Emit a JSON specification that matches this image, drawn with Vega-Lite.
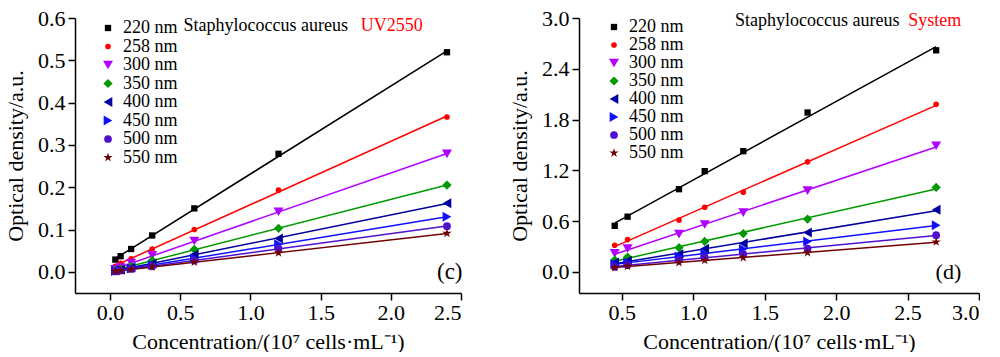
{
  "$schema": "https://vega.github.io/schema/vega-lite/v6.json",
  "padding": {"left": 4, "top": 7, "right": 0, "bottom": 0},
  "background": "white",
  "datasets": {
    "left": [
      {"series": "220 nm", "x": 0.0375, "y": 0.029}, {"series": "220 nm", "x": 0.075, "y": 0.037}, {"series": "220 nm", "x": 0.15, "y": 0.054}, {"series": "220 nm", "x": 0.3, "y": 0.086}, {"series": "220 nm", "x": 0.6, "y": 0.150}, {"series": "220 nm", "x": 1.2, "y": 0.279}, {"series": "220 nm", "x": 2.4, "y": 0.519},
      {"series": "258 nm", "x": 0.0375, "y": 0.013}, {"series": "258 nm", "x": 0.075, "y": 0.020}, {"series": "258 nm", "x": 0.15, "y": 0.031}, {"series": "258 nm", "x": 0.3, "y": 0.054}, {"series": "258 nm", "x": 0.6, "y": 0.100}, {"series": "258 nm", "x": 1.2, "y": 0.193}, {"series": "258 nm", "x": 2.4, "y": 0.366},
      {"series": "300 nm", "x": 0.0375, "y": 0.006}, {"series": "300 nm", "x": 0.075, "y": 0.010}, {"series": "300 nm", "x": 0.15, "y": 0.021}, {"series": "300 nm", "x": 0.3, "y": 0.039}, {"series": "300 nm", "x": 0.6, "y": 0.073}, {"series": "300 nm", "x": 1.2, "y": 0.142}, {"series": "300 nm", "x": 2.4, "y": 0.279},
      {"series": "350 nm", "x": 0.0375, "y": 0.004}, {"series": "350 nm", "x": 0.075, "y": 0.007}, {"series": "350 nm", "x": 0.15, "y": 0.013}, {"series": "350 nm", "x": 0.3, "y": 0.027}, {"series": "350 nm", "x": 0.6, "y": 0.053}, {"series": "350 nm", "x": 1.2, "y": 0.103}, {"series": "350 nm", "x": 2.4, "y": 0.205},
      {"series": "400 nm", "x": 0.0375, "y": 0.003}, {"series": "400 nm", "x": 0.075, "y": 0.005}, {"series": "400 nm", "x": 0.15, "y": 0.010}, {"series": "400 nm", "x": 0.3, "y": 0.020}, {"series": "400 nm", "x": 0.6, "y": 0.041}, {"series": "400 nm", "x": 1.2, "y": 0.079}, {"series": "400 nm", "x": 2.4, "y": 0.162},
      {"series": "450 nm", "x": 0.0375, "y": 0.002}, {"series": "450 nm", "x": 0.075, "y": 0.004}, {"series": "450 nm", "x": 0.15, "y": 0.008}, {"series": "450 nm", "x": 0.3, "y": 0.016}, {"series": "450 nm", "x": 0.6, "y": 0.032}, {"series": "450 nm", "x": 1.2, "y": 0.065}, {"series": "450 nm", "x": 2.4, "y": 0.130},
      {"series": "500 nm", "x": 0.0375, "y": 0.001}, {"series": "500 nm", "x": 0.075, "y": 0.003}, {"series": "500 nm", "x": 0.15, "y": 0.007}, {"series": "500 nm", "x": 0.3, "y": 0.013}, {"series": "500 nm", "x": 0.6, "y": 0.027}, {"series": "500 nm", "x": 1.2, "y": 0.055}, {"series": "500 nm", "x": 2.4, "y": 0.108},
      {"series": "550 nm", "x": 0.0375, "y": 0.001}, {"series": "550 nm", "x": 0.075, "y": 0.003}, {"series": "550 nm", "x": 0.15, "y": 0.006}, {"series": "550 nm", "x": 0.3, "y": 0.012}, {"series": "550 nm", "x": 0.6, "y": 0.023}, {"series": "550 nm", "x": 1.2, "y": 0.045}, {"series": "550 nm", "x": 2.4, "y": 0.091}
    ],
    "right": [
      {"series": "220 nm", "x": 0.45, "y": 0.544}, {"series": "220 nm", "x": 0.54, "y": 0.652}, {"series": "220 nm", "x": 0.9, "y": 0.977}, {"series": "220 nm", "x": 1.08, "y": 1.19}, {"series": "220 nm", "x": 1.35, "y": 1.426}, {"series": "220 nm", "x": 1.8, "y": 1.883}, {"series": "220 nm", "x": 2.7, "y": 2.618},
      {"series": "258 nm", "x": 0.45, "y": 0.314}, {"series": "258 nm", "x": 0.54, "y": 0.381}, {"series": "258 nm", "x": 0.9, "y": 0.612}, {"series": "258 nm", "x": 1.08, "y": 0.763}, {"series": "258 nm", "x": 1.35, "y": 0.942}, {"series": "258 nm", "x": 1.8, "y": 1.30}, {"series": "258 nm", "x": 2.7, "y": 1.98},
      {"series": "300 nm", "x": 0.45, "y": 0.218}, {"series": "300 nm", "x": 0.54, "y": 0.274}, {"series": "300 nm", "x": 0.9, "y": 0.445}, {"series": "300 nm", "x": 1.08, "y": 0.56}, {"series": "300 nm", "x": 1.35, "y": 0.70}, {"series": "300 nm", "x": 1.8, "y": 0.96}, {"series": "300 nm", "x": 2.7, "y": 1.49},
      {"series": "350 nm", "x": 0.45, "y": 0.139}, {"series": "350 nm", "x": 0.54, "y": 0.175}, {"series": "350 nm", "x": 0.9, "y": 0.286}, {"series": "350 nm", "x": 1.08, "y": 0.36}, {"series": "350 nm", "x": 1.35, "y": 0.453}, {"series": "350 nm", "x": 1.8, "y": 0.624}, {"series": "350 nm", "x": 2.7, "y": 0.997},
      {"series": "400 nm", "x": 0.45, "y": 0.11}, {"series": "400 nm", "x": 0.54, "y": 0.13}, {"series": "400 nm", "x": 0.9, "y": 0.207}, {"series": "400 nm", "x": 1.08, "y": 0.274}, {"series": "400 nm", "x": 1.35, "y": 0.334}, {"series": "400 nm", "x": 1.8, "y": 0.465}, {"series": "400 nm", "x": 2.7, "y": 0.735},
      {"series": "450 nm", "x": 0.45, "y": 0.09}, {"series": "450 nm", "x": 0.54, "y": 0.11}, {"series": "450 nm", "x": 0.9, "y": 0.18}, {"series": "450 nm", "x": 1.08, "y": 0.215}, {"series": "450 nm", "x": 1.35, "y": 0.27}, {"series": "450 nm", "x": 1.8, "y": 0.358}, {"series": "450 nm", "x": 2.7, "y": 0.552},
      {"series": "500 nm", "x": 0.45, "y": 0.06}, {"series": "500 nm", "x": 0.54, "y": 0.08}, {"series": "500 nm", "x": 0.9, "y": 0.14}, {"series": "500 nm", "x": 1.08, "y": 0.17}, {"series": "500 nm", "x": 1.35, "y": 0.21}, {"series": "500 nm", "x": 1.8, "y": 0.274}, {"series": "500 nm", "x": 2.7, "y": 0.433},
      {"series": "550 nm", "x": 0.45, "y": 0.05}, {"series": "550 nm", "x": 0.54, "y": 0.065}, {"series": "550 nm", "x": 0.9, "y": 0.11}, {"series": "550 nm", "x": 1.08, "y": 0.135}, {"series": "550 nm", "x": 1.35, "y": 0.167}, {"series": "550 nm", "x": 1.8, "y": 0.226}, {"series": "550 nm", "x": 2.7, "y": 0.354}
    ]
  },
  "hconcat": [
    {
      "width": 386,
      "height": 275,
      "layer": [
        {
          "data": {"name": "left"},
          "transform": [{"regression": "y", "on": "x", "groupby": ["series"]}],
          "mark": {"type": "line", "strokeWidth": 1.5},
          "encoding": {
            "x": {"field": "x", "type": "quantitative", "scale": {"domain": [-0.25, 2.5], "nice": false, "zero": false}},
            "y": {"field": "y", "type": "quantitative", "scale": {"domain": [-0.05, 0.6], "nice": false, "zero": false}},
            "stroke": {"field": "series", "type": "nominal", "legend": null, "scale": {"range": ["#000000", "#FF0000", "#B000FF", "#009900", "#0000A0", "#1010FF", "#5010D0", "#700000"]}}
          }
        },
        {
          "data": {"name": "left"},
          "mark": {"type": "point", "filled": true, "opacity": 1},
          "encoding": {
            "x": {"field": "x", "type": "quantitative", "title": "Concentration/(10⁷ cells·mL⁻¹)", "axis": {"values": [0, 0.5, 1, 1.5, 2, 2.5], "format": ".1f"}},
            "y": {"field": "y", "type": "quantitative", "title": "Optical density/a.u.", "axis": {"values": [0, 0.1, 0.2, 0.3, 0.4, 0.5, 0.6], "format": ".1f"}},
            "color": {"field": "series", "type": "nominal", "scale": {"range": ["#000000", "#FF0000", "#B000FF", "#009900", "#0000A0", "#1010FF", "#5010D0", "#700000"]}, "legend": {"orient": "none", "legendX": 24, "legendY": 1, "rowPadding": 0.5}},
            "shape": {"field": "series", "type": "nominal", "scale": {"range": ["square", "circle", "triangle-down", "diamond", "triangle-left", "triangle-right", "circle", "M0,-1L0.2245,-0.309L0.951,-0.309L0.3633,0.118L0.5878,0.809L0,0.382L-0.5878,0.809L-0.3633,0.118L-0.951,-0.309L-0.2245,-0.309Z"]}, "legend": {"orient": "none", "legendX": 24, "legendY": 1, "rowPadding": 0.5}},
            "size": {"field": "series", "type": "nominal", "scale": {"type": "ordinal", "range": [40, 32, 100, 85, 100, 100, 60, 95]}, "legend": {"orient": "none", "legendX": 24, "legendY": 1, "rowPadding": 0.5}}
          }
        },
        {
          "data": {"values": [{"label": "Staphylococcus aureus", "x": 0.523, "y": 0.582}]},
          "mark": {"type": "text", "fontSize": 18, "align": "left", "baseline": "middle", "color": "black"},
          "encoding": {"x": {"field": "x", "type": "quantitative"}, "y": {"field": "y", "type": "quantitative"}, "text": {"field": "label"}}
        },
        {
          "data": {"values": [{"label": "(c)", "x": 2.42, "y": 0.0}]},
          "mark": {"type": "text", "fontSize": 23, "align": "center", "baseline": "middle", "color": "black"},
          "encoding": {"x": {"field": "x", "type": "quantitative"}, "y": {"field": "y", "type": "quantitative"}, "text": {"field": "label"}}
        },
        {
          "data": {"values": [{"label": "UV2550", "x": 1.785, "y": 0.582}]},
          "mark": {"type": "text", "fontSize": 18, "align": "left", "baseline": "middle", "color": "#FF0000"},
          "encoding": {"x": {"field": "x", "type": "quantitative"}, "y": {"field": "y", "type": "quantitative"}, "text": {"field": "label"}}
        }
      ]
    },
    {
      "width": 400,
      "height": 275,
      "layer": [
        {
          "data": {"name": "right"},
          "transform": [{"regression": "y", "on": "x", "groupby": ["series"]}],
          "mark": {"type": "line", "strokeWidth": 1.5},
          "encoding": {
            "x": {"field": "x", "type": "quantitative", "scale": {"domain": [0.2, 3.0], "nice": false, "zero": false}},
            "y": {"field": "y", "type": "quantitative", "scale": {"domain": [-0.25, 3.0], "nice": false, "zero": false}},
            "stroke": {"field": "series", "type": "nominal", "legend": null, "scale": {"range": ["#000000", "#FF0000", "#B000FF", "#009900", "#0000A0", "#1010FF", "#5010D0", "#700000"]}}
          }
        },
        {
          "data": {"name": "right"},
          "mark": {"type": "point", "filled": true, "opacity": 1},
          "encoding": {
            "x": {"field": "x", "type": "quantitative", "title": "Concentration/(10⁷ cells·mL⁻¹)", "axis": {"values": [0.5, 1, 1.5, 2, 2.5, 3], "format": ".1f"}},
            "y": {"field": "y", "type": "quantitative", "title": "Optical density/a.u.", "axis": {"values": [0, 0.6, 1.2, 1.8, 2.4, 3.0], "format": ".1f"}},
            "color": {"field": "series", "type": "nominal", "scale": {"range": ["#000000", "#FF0000", "#B000FF", "#009900", "#0000A0", "#1010FF", "#5010D0", "#700000"]}, "legend": {"orient": "none", "legendX": 26, "legendY": 0, "rowPadding": 0}},
            "shape": {"field": "series", "type": "nominal", "scale": {"range": ["square", "circle", "triangle-down", "diamond", "triangle-left", "triangle-right", "circle", "M0,-1L0.2245,-0.309L0.951,-0.309L0.3633,0.118L0.5878,0.809L0,0.382L-0.5878,0.809L-0.3633,0.118L-0.951,-0.309L-0.2245,-0.309Z"]}, "legend": {"orient": "none", "legendX": 26, "legendY": 0, "rowPadding": 0}},
            "size": {"field": "series", "type": "nominal", "scale": {"type": "ordinal", "range": [40, 32, 100, 85, 100, 100, 60, 95]}, "legend": {"orient": "none", "legendX": 26, "legendY": 0, "rowPadding": 0}}
          }
        },
        {
          "data": {"values": [{"label": "Staphylococcus aureus", "x": 1.292, "y": 2.96}]},
          "mark": {"type": "text", "fontSize": 18, "align": "left", "baseline": "middle", "color": "black"},
          "encoding": {"x": {"field": "x", "type": "quantitative"}, "y": {"field": "y", "type": "quantitative"}, "text": {"field": "label"}}
        },
        {
          "data": {"values": [{"label": "(d)", "x": 2.786, "y": 0.0}]},
          "mark": {"type": "text", "fontSize": 22, "align": "center", "baseline": "middle", "color": "black"},
          "encoding": {"x": {"field": "x", "type": "quantitative"}, "y": {"field": "y", "type": "quantitative"}, "text": {"field": "label"}}
        },
        {
          "data": {"values": [{"label": "System", "x": 2.505, "y": 2.96}]},
          "mark": {"type": "text", "fontSize": 18, "align": "left", "baseline": "middle", "color": "#FF0000"},
          "encoding": {"x": {"field": "x", "type": "quantitative"}, "y": {"field": "y", "type": "quantitative"}, "text": {"field": "label"}}
        }
      ]
    }
  ],
  "spacing": 45,
  "resolve": {"scale": {"color": "independent", "shape": "independent", "size": "independent", "stroke": "independent"}},
  "config": {
    "font": "Liberation Serif",
    "view": {"stroke": null},
    "style": {"guide-label": {"font": "Liberation Serif"}, "guide-title": {"font": "Liberation Serif"}},
    "axis": {
      "grid": false,
      "domainColor": "black",
      "domainWidth": 1.5,
      "tickColor": "black",
      "tickWidth": 1.5,
      "tickSize": 7,
      "labelColor": "black",
      "labelFont": "Liberation Serif",
      "labelFontSize": 22,
      "labelPadding": 3,
      "titleColor": "black",
      "titleFont": "Liberation Serif",
      "titleFontSize": 22,
      "titleFontWeight": "normal",
      "titlePadding": 10
    },
    "axisX": {"labelPadding": 2, "titlePadding": 8},
    "legend": {
      "title": null,
      "labelFont": "Liberation Serif",
      "labelFontSize": 18,
      "labelColor": "black",
      "padding": 0,
      "labelOffset": 6,
      "symbolOpacity": 1
    }
  }
}
